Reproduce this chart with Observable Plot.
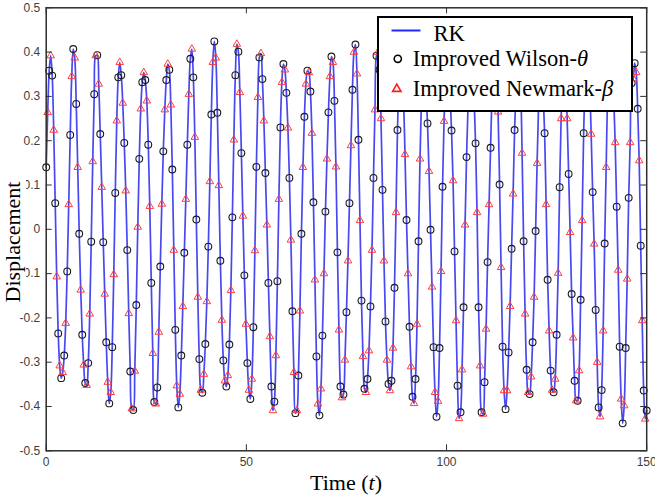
<!DOCTYPE html>
<html>
<head>
<meta charset="utf-8">
<script src="https://cdn.jsdelivr.net/npm/d3@7"></script>
<script src="https://cdn.jsdelivr.net/npm/@observablehq/plot@0.6"></script>
<style>
  body { margin: 0; background: #fff; }
  #fig { position: relative; width: 655px; height: 498px; overflow: hidden; background: #fff; }
  #fig svg.plot { position: absolute; left: 0; top: 0; }
  #ylab {
    position: absolute; left: 13px; top: 242px;
    transform: translate(-50%, -50%) rotate(-90deg);
    font: 22px "Liberation Serif", "Times New Roman", serif;
    line-height: 26px; padding: 0 4px; background: #fff; color: #000; white-space: nowrap;
  }
  #xlab {
    position: absolute; left: 346px; top: 471.5px; transform: translateX(-50%);
    font: 22px "Liberation Serif", "Times New Roman", serif; line-height: 22px; color: #000; white-space: nowrap;
  }
  #legend {
    position: absolute; left: 377px; top: 16px; width: 256px; height: 96px;
    box-sizing: border-box; border: 2.5px solid #000; background: #fff;
  }
  #legend svg { position: absolute; left: 0; top: 0; }
  #legend text { font: 22.5px "Liberation Serif", "Times New Roman", serif; fill: #000; }
</style>
</head>
<body>
<div id="fig"></div>
<script>
// Sampled solutions: Wilson-θ at t = 0, 0.75, 1.5, ...; Newmark-β half a step later.
const step = 0.75;
const wilsonStart = 0;
const newmarkStart = 0.375;

const wilson = [
  0.140, 0.358, 0.347, 0.059, -0.235, -0.336, -0.285, -0.095, 0.213, 0.407,
  0.283, -0.010, -0.238, -0.347, -0.302, -0.028, 0.305, 0.393, 0.215, -0.029,
  -0.255, -0.393, -0.266, 0.082, 0.343, 0.348, 0.195, -0.047, -0.321, -0.408,
  -0.171, 0.159, 0.332, 0.337, 0.191, -0.121, -0.390, -0.357, -0.084, 0.176,
  0.337, 0.360, 0.135, -0.227, -0.402, -0.285, -0.053, 0.191, 0.385, 0.343,
  0.022, -0.293, -0.369, -0.259, -0.039, 0.259, 0.424, 0.263, -0.071, -0.296,
  -0.355, -0.260, 0.027, 0.348, 0.401, 0.172, -0.104, -0.302, -0.383, -0.221,
  0.141, 0.388, 0.339, 0.127, -0.121, -0.355, -0.389, -0.117, 0.230, 0.373,
  0.308, 0.116, -0.185, -0.415, -0.330, -0.010, 0.254, 0.358, 0.311, 0.061,
  -0.287, -0.420, -0.240, 0.040, 0.264, 0.390, 0.290, -0.052, -0.355, -0.373,
  -0.187, 0.059, 0.315, 0.417, 0.202, -0.161, -0.360, -0.338, -0.174, 0.116,
  0.392, 0.360, 0.089, -0.208, -0.349, -0.342, -0.132, 0.224, 0.370, 0.300,
  0.021, -0.220, -0.378, -0.338, -0.027, 0.300, 0.360, 0.239, -0.001, -0.266,
  -0.423, -0.268, 0.096, 0.340, 0.380, 0.223, -0.050, -0.353, -0.413, -0.176,
  0.163, 0.360, 0.380, 0.194, -0.176, -0.413, -0.345, -0.074, 0.184, 0.360,
  0.350, 0.101, -0.265, -0.406, -0.278, -0.044, 0.224, 0.390, 0.330, -0.027,
  -0.317, -0.372, -0.255, -0.004, 0.280, 0.380, 0.217, -0.114, -0.319, -0.368,
  -0.238, 0.095, 0.340, 0.350, 0.125, -0.146, -0.342, -0.387, -0.159, 0.217,
  0.390, 0.330, 0.084, -0.182, -0.402, -0.363, -0.032, 0.300, 0.390, 0.300,
  0.051, -0.265, -0.438, -0.268, 0.071, 0.330, 0.375, 0.272, -0.037, -0.364,
  -0.409
];

const newmark = [
  0.264, 0.392, 0.224, -0.107, -0.308, -0.323, -0.212, 0.056, 0.345, 0.387,
  0.140, -0.137, -0.306, -0.352, -0.191, 0.153, 0.392, 0.328, 0.095, -0.146,
  -0.345, -0.368, -0.102, 0.245, 0.377, 0.285, 0.087, -0.190, -0.405, -0.320,
  0.005, 0.272, 0.354, 0.290, 0.052, -0.280, -0.394, -0.232, 0.057, 0.270,
  0.373, 0.281, -0.047, -0.353, -0.372, -0.174, 0.068, 0.305, 0.407, 0.208,
  -0.153, -0.363, -0.327, -0.163, 0.108, 0.377, 0.387, 0.099, -0.205, -0.342,
  -0.330, -0.138, 0.202, 0.418, 0.309, 0.030, -0.214, -0.363, -0.338, -0.048,
  0.298, 0.397, 0.245, 0.010, -0.242, -0.409, -0.285, 0.068, 0.332, 0.360,
  0.229, -0.024, -0.323, -0.409, -0.184, 0.140, 0.328, 0.354, 0.217, -0.114,
  -0.394, -0.360, -0.100, 0.159, 0.345, 0.377, 0.141, -0.227, -0.380, -0.295,
  -0.071, 0.189, 0.400, 0.351, 0.020, -0.287, -0.368, -0.274, -0.047, 0.270,
  0.400, 0.250, -0.071, -0.295, -0.364, -0.268, 0.038, 0.330, 0.370, 0.169,
  -0.100, -0.310, -0.393, -0.214, 0.159, 0.380, 0.310, 0.131, -0.130, -0.368,
  -0.388, -0.095, 0.244, 0.390, 0.310, 0.110, -0.206, -0.427, -0.317, 0.010,
  0.280, 0.390, 0.300, 0.038, -0.308, -0.417, -0.225, 0.056, 0.300, 0.390,
  0.265, -0.086, -0.364, -0.364, -0.174, 0.080, 0.320, 0.390, 0.172, -0.191,
  -0.368, -0.333, -0.153, 0.149, 0.360, 0.310, 0.056, -0.229, -0.363, -0.338,
  -0.099, 0.250, 0.390, 0.250, -0.007, -0.245, -0.387, -0.319, 0.020, 0.330,
  0.390, 0.215, -0.033, -0.300, -0.423, -0.229, 0.140, 0.360, 0.380, 0.196,
  -0.092, -0.383, -0.398, -0.112, 0.196, 0.340, 0.354, 0.155, -0.206, -0.428
];

const xTicks = [0, 50, 100, 150];
const xTickLabels = ["0", "50", "100", "150"];
const yTicks = [-0.5, -0.4, -0.3, -0.2, -0.1, 0, 0.1, 0.2, 0.3, 0.4, 0.5];
const yTickLabels = ["-0.5", "-0.4", "-0.3", "-0.2", "-0.1", "0", "0.1", "0.2", "0.3", "0.4", "0.5"];

const seriesNames = ["RK", "Improved Wilson-", "Improved Newmark-"];

// Rows for the marks
const wilsonRows = wilson.map((v, i) => ({t: wilsonStart + i * step, v}));
const newmarkRows = newmark.map((v, i) => ({t: newmarkStart + i * step, v}));
// The RK reference curve runs through both sampled solutions in time order
const rkRows = [...wilsonRows, ...newmarkRows].sort((a, b) => a.t - b.t);

const W = 655, H = 498;
const mL = 45.7, mR = 8.8, mT = 7.3, mB = 47.7;
const plotW = W - mL - mR, plotH = H - mT - mB;
const tickLen = 6;
const axisInk = "#2e2e2e";

const chart = Plot.plot({
  width: W, height: H,
  marginLeft: mL, marginRight: mR, marginTop: mT, marginBottom: mB,
  x: {domain: [0, 150]},
  y: {domain: [-0.5, 0.5]},
  style: {background: "#fff", color: "#3e3e3e", fontFamily: "'Liberation Sans', Arial, sans-serif", fontSize: "12px"},
  marks: [
    Plot.line(rkRows, {x: "t", y: "v", stroke: "#3434f0", strokeWidth: 1.7, strokeOpacity: 0.9, curve: "catmull-rom"}),
    Plot.dot(wilsonRows, {x: "t", y: "v", r: 3.4, fill: "none", stroke: "#1c1c1c", strokeWidth: 1.1}),
    Plot.dot(newmarkRows, {x: "t", y: "v", r: 2.8, symbol: "triangle", fill: "none", stroke: "#ff3c3c", strokeWidth: 1}),
    // inward tick marks on all four sides
    Plot.tickX(xTicks, {x: d => d, insetTop: plotH - tickLen, stroke: axisInk}),
    Plot.tickX(xTicks, {x: d => d, insetBottom: plotH - tickLen, stroke: axisInk}),
    Plot.tickY(yTicks, {y: d => d, insetRight: plotW - tickLen, stroke: axisInk}),
    Plot.tickY(yTicks, {y: d => d, insetLeft: plotW - tickLen, stroke: axisInk}),
    Plot.frame({stroke: axisInk, strokeWidth: 1.5}),
    Plot.axisX(xTicks, {tickSize: 0, tickPadding: 7, label: null, tickFormat: d => xTickLabels[xTicks.indexOf(d)]}),
    Plot.axisY(yTicks, {tickSize: 0, tickPadding: 6, label: null, tickFormat: d => yTickLabels[yTicks.indexOf(d)]})
  ]
});

const fig = document.getElementById("fig");
chart.classList.add("plot");
fig.appendChild(chart);

// axis titles
const ylab = document.createElement("div");
ylab.id = "ylab";
ylab.textContent = "Displacement";
fig.appendChild(ylab);

const xlab = document.createElement("div");
xlab.id = "xlab";
xlab.innerHTML = "Time (<i>t</i>)";
fig.appendChild(xlab);

// legend
const legend = document.createElement("div");
legend.id = "legend";
legend.innerHTML = `
<svg width="251" height="91" viewBox="0 0 251 91">
  <line x1="12.5" x2="41.5" y1="12.5" y2="12.5" stroke="#2626ff" stroke-width="2"/>
  <text x="54.5" y="22.5">${seriesNames[0]}</text>
  <circle cx="18.8" cy="40.8" r="3.6" fill="none" stroke="#000" stroke-width="1.6"/>
  <text x="33.8" y="48.2">${seriesNames[1]}<tspan font-style="italic">θ</tspan></text>
  <path d="M17.8,66.2 L13.6,73.4 L22,73.4 Z" fill="none" stroke="#ff1a1a" stroke-width="1.6"/>
  <text x="33.8" y="78.2">${seriesNames[2]}<tspan font-style="italic">β</tspan></text>
</svg>`;
fig.appendChild(legend);
</script>
</body>
</html>
